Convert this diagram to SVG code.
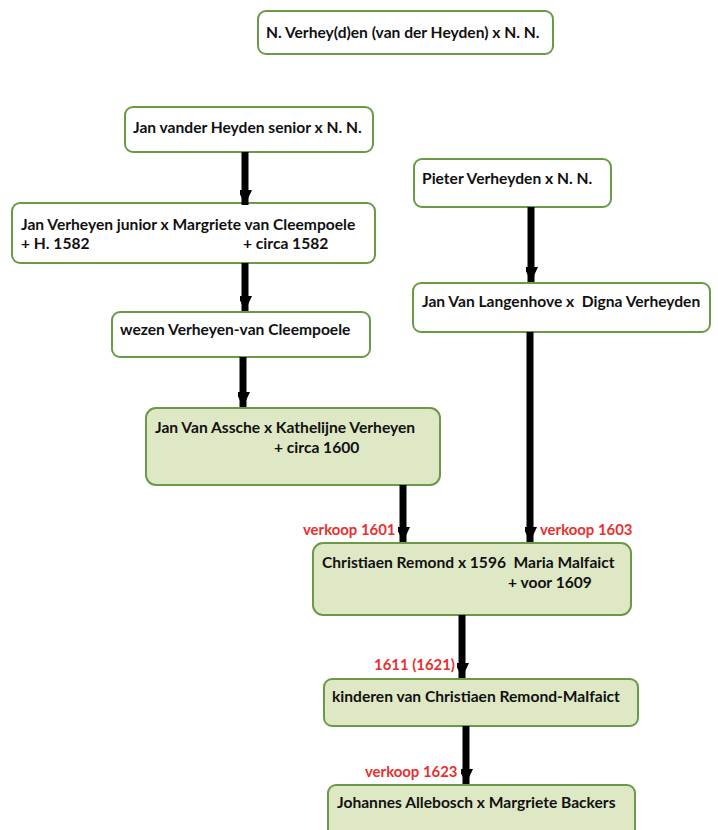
<svg xmlns="http://www.w3.org/2000/svg" width="718" height="830" viewBox="0 0 718 830">
<defs>
<marker id="ah" markerUnits="userSpaceOnUse" markerWidth="16" markerHeight="12" refX="15" refY="7" orient="auto">
<path d="M0,0 L15,7 L0,14 Z" fill="#000"/>
</marker>
<style>
.n{fill:#fff;stroke:#6a9a48;stroke-width:2}
.g{fill:#dfe8c4;stroke:#6a9a48;stroke-width:2}
text{font-family:Lato,"Liberation Sans",sans-serif;font-weight:bold;font-size:15.6px;fill:#111;white-space:pre}
.r{fill:#e8302e;font-size:14.9px}
.c line{stroke:#000;stroke-width:7;marker-end:url(#ah)}
</style>
</defs>
<rect width="718" height="830" fill="#fff"/>
<g id="n1"><rect class="n" x="258" y="11" width="295" height="43" rx="8"/><text x="266" y="38">N. Verhey(d)en (van der Heyden) x N. N.</text></g>
<g id="n2"><rect class="n" x="125" y="107" width="248" height="45" rx="8"/><text x="133" y="133">Jan vander Heyden senior x N. N.</text></g>
<g id="n3"><rect class="n" x="12" y="203" width="363" height="60" rx="8"/><text x="21" y="230">Jan Verheyen junior x Margriete van Cleempoele</text><text x="21" y="249">+ H. 1582</text><text x="243" y="249">+ circa 1582</text></g>
<g id="n4"><rect class="n" x="112" y="312" width="258" height="45" rx="8"/><text x="120" y="335">wezen Verheyen-van Cleempoele</text></g>
<g id="n5"><rect class="g" x="146" y="408" width="294" height="77" rx="10"/><text x="155" y="433">Jan Van Assche x Kathelijne Verheyen</text><text x="274" y="453">+ circa 1600</text></g>
<g id="n6"><rect class="n" x="414" y="159" width="197" height="48" rx="8"/><text x="422" y="184">Pieter Verheyden x N. N.</text></g>
<g id="n7"><rect class="n" x="413" y="283" width="297" height="49" rx="8"/><text x="422" y="307" xml:space="preserve">Jan Van Langenhove x  Digna Verheyden</text></g>
<g id="n8"><rect class="g" x="313" y="543" width="318" height="72" rx="10"/><text x="322" y="568" xml:space="preserve">Christiaen Remond x 1596  Maria Malfaict</text><text x="508" y="588">+ voor 1609</text></g>
<g id="n9"><rect class="g" x="324" y="679" width="314" height="47" rx="8"/><text x="332" y="702">kinderen van Christiaen Remond-Malfaict</text></g>
<g id="n10"><rect class="g" x="328" y="785" width="307" height="60" rx="8"/><text x="337" y="808">Johannes Allebosch x Margriete Backers</text></g>
<g id="connectors" class="c">
<line x1="245" y1="152" x2="245" y2="205"/>
<line x1="245" y1="263" x2="245" y2="311"/>
<line x1="243" y1="357" x2="243" y2="407"/>
<line x1="531" y1="207" x2="531" y2="282"/>
<line x1="403" y1="485" x2="403" y2="542"/>
<line x1="530" y1="332" x2="530" y2="542"/>
<line x1="462" y1="615" x2="462" y2="678"/>
<line x1="466" y1="726" x2="466" y2="784"/>
</g>
<g id="labels">
<text class="r" x="303" y="535">verkoop 1601</text>
<text class="r" x="540" y="535">verkoop 1603</text>
<text class="r" x="374" y="670">1611 (1621)</text>
<text class="r" x="365" y="777">verkoop 1623</text>
</g>
</svg>
